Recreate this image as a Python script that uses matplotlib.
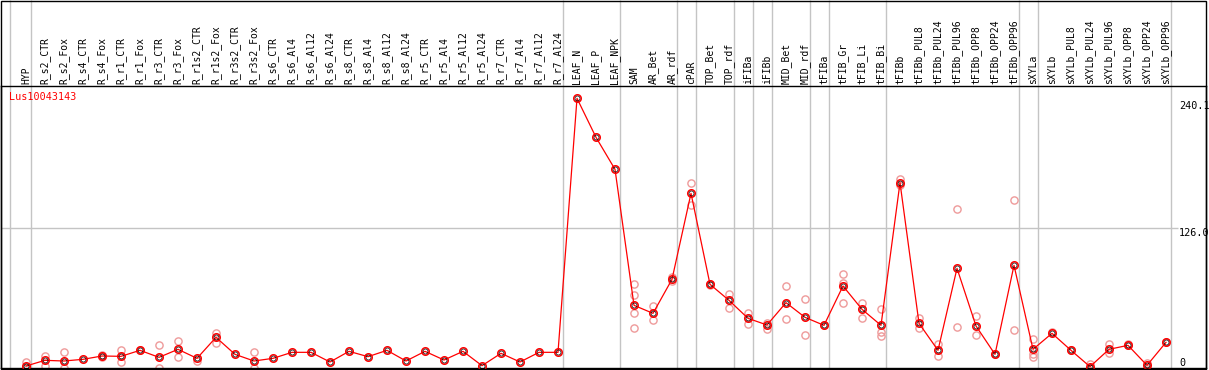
import matplotlib
matplotlib.use("Agg")
import matplotlib.pyplot as plt
from matplotlib.patches import Rectangle
from matplotlib.transforms import blended_transform_factory

# Sample names (header labels), left to right
samples = [
    "HYP",
    "R_s2_CTR", "R_s2_Fox", "R_s4_CTR", "R_s4_Fox", "R_r1_CTR", "R_r1_Fox",
    "R_r3_CTR", "R_r3_Fox", "R_r1s2_CTR", "R_r1s2_Fox", "R_r3s2_CTR", "R_r3s2_Fox",
    "R_s6_CTR", "R_s6_Al4", "R_s6_Al12", "R_s6_Al24",
    "R_s8_CTR", "R_s8_Al4", "R_s8_Al12", "R_s8_Al24",
    "R_r5_CTR", "R_r5_Al4", "R_r5_Al12", "R_r5_Al24",
    "R_r7_CTR", "R_r7_Al4", "R_r7_Al12", "R_r7_Al24",
    "LEAF_N", "LEAF_P", "LEAF_NPK",
    "SAM", "AR_Bet", "AR_rdf",
    "cPAR",
    "TOP_Bet", "TOP_rdf",
    "iFIBa",
    "iFIBb",
    "MID_Bet", "MID_rdf",
    "tFIBa",
    "tFIB_Gr", "tFIB_Li", "tFIB_Bi",
    "tFIBb", "tFIBb_PUL8", "tFIBb_PUL24", "tFIBb_PUL96",
    "tFIBb_OPP8", "tFIBb_OPP24", "tFIBb_OPP96",
    "sXYLa",
    "sXYLb", "sXYLb_PUL8", "sXYLb_PUL24", "sXYLb_PUL96",
    "sXYLb_OPP8", "sXYLb_OPP24", "sXYLb_OPP96",
]

# mean expression per sample
means = [
    1.8,
    6.9, 6.3, 7.8, 10.8, 10.5, 15.9, 9.6, 16.8, 8.7, 27.6, 12.3, 6.3,
    8.7, 14.1, 14.1, 5.4, 15.0, 10.2, 15.9, 6.3,
    15.0, 7.2, 15.0, 2.1, 13.2, 5.4, 14.1, 14.1,
    242.7, 207.6, 178.8,
    56.4, 49.2, 79.8,
    157.2,
    75.3, 60.9,
    44.7,
    38.7,
    58.8, 45.6,
    38.4,
    73.8, 52.8, 38.4,
    166.8, 40.2, 15.9, 89.7, 37.8, 12.3, 92.4,
    16.8,
    31.2, 15.9, 1.2, 16.8, 20.4, 2.4, 23.1,
]

# individual replicates (light circles)
replicates = [
    [5.1, 0.5],
    [11.1, 1.8], [14.4, 0.0], [], [11.5, 10.0], [15.9, 5.4], [16.5],
    [20.7, 0.0], [24.3, 9.6], [6.3], [31.8, 22.8], [], [14.4, 0.0],
    [], [], [], [], [], [], [], [],
    [], [], [], [], [], [], [], [],
    [], [], [],
    [75.3, 66.0, 49.8, 35.7], [55.8, 42.9], [81.6, 78.6],
    [166.2, 147.0],
    [76.0, 74.5], [66.3, 54.3],
    [49.8, 39.9],
    [40.8, 35.4],
    [73.5, 43.8], [61.8, 29.4],
    [38.4],
    [84.3, 76.8, 58.8], [58.2, 45.3], [53.4, 32.4, 28.8],
    [169.8, 164.4], [44.7, 35.7], [21.3, 10.5], [142.8, 36.9],
    [46.8, 29.7], [12.3], [150.9, 33.9],
    [25.8, 12.9, 10.2],
    [32.4], [15.9], [3.9, 0.0], [21.6, 13.2],
    [21.6, 20.4], [4.8, 0.0], [23.1],
]

# last sample index of each group (gray separators sit just after them)
group_ends = [0, 28, 31, 34, 35, 37, 38, 39, 41, 42, 45, 52, 53, 60]

gene = "Lus10043143"
y_labels = ["240.1", "126.0", "0"]
y_label_vals = [240.1, 126.0, 0.0]

W, H = 1209, 370
fig = plt.figure(figsize=(W / 100, H / 100), dpi=100)
ax = fig.add_axes([1 / W, (H - 368) / H, 1205 / W, 282 / H])

x = list(range(len(samples)))
ax.set_xlim(-1.316, 62.105)
ax.set_ylim(0, 253.8)
ax.set_xticks([])
ax.set_yticks([])
for s in ax.spines.values():
    s.set_color("black")
    s.set_linewidth(1.0)

mono = "DejaVu Sans Mono"
bt = blended_transform_factory(ax.transData, ax.transAxes)

# group separators, running up through the header
seps = [-0.84] + [e + 0.26 for e in group_ends]
ax.vlines(seps, 0, 368 / 282, transform=bt, colors="#c4c4c4",
          linewidth=1.0, clip_on=False, zorder=1)

# reference line at 126
ax.hlines(126.0, -1.316, 60.63, colors="#c4c4c4", linewidth=1.0, zorder=1)

# replicates
for i, vals in enumerate(replicates):
    if vals:
        ax.plot([i] * len(vals), vals, ls="none", marker="o", ms=5.2,
                mfc="none", mec="#ee9a9a", mew=1.0, zorder=2)

# mean line and markers
ax.plot(x, means, color="red", lw=0.9, marker="o", ms=5.4, mfc="none",
        mec="red", mew=1.1, zorder=3)
ax.plot(x, means, ls="none", marker="o", ms=3.6, mfc="none",
        mec="black", mew=0.5, zorder=4)

# header labels
for i, name in enumerate(samples):
    ax.text(i, 1.007, name, transform=bt, rotation=90, ha="center",
            va="bottom", fontsize=7, family=mono, clip_on=False)

ax.text(8 / 1205, (368 - 97) / 282, gene, transform=ax.transAxes,
        color="red", fontsize=7.3, family=mono, va="center", ha="left")

# value labels on the right
bt2 = blended_transform_factory(ax.transAxes, ax.transData)
for lab, v in zip(y_labels, y_label_vals):
    ax.text(1178 / 1205, v, lab, transform=bt2, fontsize=7.3, family=mono,
            ha="left", va="top" if v > 0 else "bottom")

# outer frame
fig.patches.append(Rectangle((0.5 / W, 1.5 / H), 1205.5 / W, 368 / H,
                             transform=fig.transFigure, fill=False,
                             ec="black", lw=1.0))

fig.savefig("out.png", dpi=100)
